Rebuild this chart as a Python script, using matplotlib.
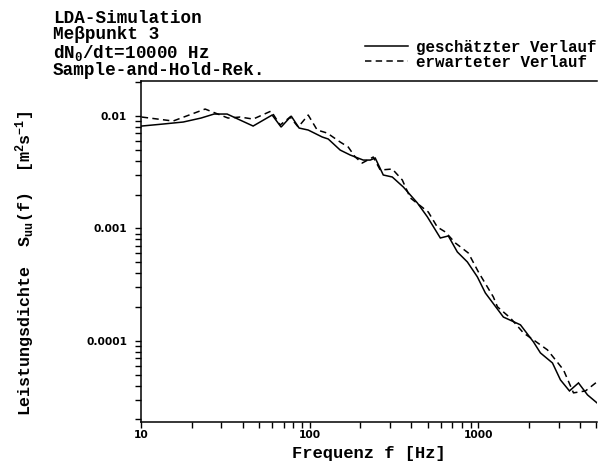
import matplotlib
matplotlib.use("Agg")
import matplotlib.pyplot as plt
from matplotlib.ticker import LogLocator, FixedLocator, FixedFormatter, NullFormatter

# Frequencies [Hz] and spectral density values [m^2 s^-1]
f_est = [10.1, 13.5, 17.8, 22.7, 27.1, 32.4, 38.7, 46.2, 59.9, 67.7, 77.7, 86.6,
         98.0, 118.7, 128.8, 151.7, 174.0, 207.7, 228.6, 244.7, 273.1, 308.8,
         358.8, 434.5, 498.2, 595.0, 663.7, 750.6, 860.4, 986.5, 1100, 1407,
         1776, 2121, 2333, 2749, 3066, 3467, 3922, 4436, 5050]
s_est = [0.00815, 0.00849, 0.00885, 0.00960, 0.01042, 0.01042, 0.00921, 0.00815,
         0.01021, 0.00798, 0.0100, 0.00782, 0.00751, 0.00651, 0.00625, 0.00498,
         0.00450, 0.00406, 0.00406, 0.00423, 0.00299, 0.00287, 0.00234, 0.00169,
         0.00127, 0.000823, 0.000858, 0.000618, 0.000504, 0.000371, 0.000267,
         0.000163, 0.000139, 0.0000980, 0.0000782, 0.0000637, 0.0000450,
         0.0000359, 0.0000423, 0.0000331, 0.0000281]

f_exp = [10.1, 15.5, 24.0, 32.8, 38.7, 46.2, 59.1, 66.8, 76.6, 85.5, 98.0, 110.8,
         127.0, 151.7, 169.3, 186.2, 204.9, 238.2, 262.1, 308.8, 354.0, 394.9,
         505.0, 571.0, 637.2, 730.3, 872.3, 1000, 1227, 1297, 1548, 1850, 2121,
         2568, 3195, 3663, 4315, 5050]
s_exp = [0.00980, 0.00903, 0.01154, 0.00960, 0.00980, 0.00940, 0.01108, 0.00832,
         0.00980, 0.00798, 0.01021, 0.00751, 0.00706, 0.00587, 0.00530, 0.00432,
         0.00382, 0.00432, 0.00331, 0.00338, 0.00270, 0.00187, 0.00140, 0.00103,
         0.000931, 0.000743, 0.000605, 0.000411, 0.000246, 0.000201, 0.000160,
         0.0001178, 0.0001021, 0.0000832, 0.0000553, 0.0000345, 0.0000359,
         0.0000432]

x_ticks = [10, 100, 1000]
x_tick_labels = ["10", "100", "1000"]
y_ticks = [0.0001, 0.001, 0.01]
y_tick_labels = ["0.0001", "0.001", "0.01"]

header_lines = ["LDA-Simulation",
                "Me\u03b2punkt 3",
                r"$\mathregular{dN_0/dt}$=10000 Hz",
                "Sample-and-Hold-Rek."]
legend_labels = ["gesch\u00e4tzter Verlauf", "erwarteter Verlauf"]

mono = "Liberation Mono"

fig = plt.figure(figsize=(6.10, 4.66), dpi=100)
ax = fig.add_axes([141 / 610, 1 - 422 / 466, (597 - 141) / 610, (422 - 81) / 466])

l1, = ax.plot(f_est, s_est, color="black", lw=1.1, solid_joinstyle="miter")
l2, = ax.plot(f_exp, s_exp, color="black", lw=1.1, dashes=(4.2, 2.8))

ax.set_xscale("log")
ax.set_yscale("log")
ax.set_xlim(10, 5050)
ax.set_ylim(1.9e-5, 0.0205)

ax.xaxis.set_major_locator(FixedLocator(x_ticks))
ax.xaxis.set_major_formatter(FixedFormatter(x_tick_labels))
ax.xaxis.set_minor_locator(LogLocator(base=10, subs=range(2, 10)))
ax.xaxis.set_minor_formatter(NullFormatter())
ax.yaxis.set_major_locator(FixedLocator(y_ticks))
ax.yaxis.set_major_formatter(FixedFormatter(y_tick_labels))
ax.yaxis.set_minor_locator(LogLocator(base=10, subs=range(2, 10)))
ax.yaxis.set_minor_formatter(NullFormatter())

ax.spines["right"].set_visible(False)
for s in ("left", "bottom", "top"):
    ax.spines[s].set_linewidth(1.1)

ax.tick_params(axis="both", which="both", direction="out", width=1.0,
               top=False, right=False)
ax.tick_params(axis="x", which="both", length=4, pad=2)
ax.tick_params(axis="y", which="both", length=4, pad=6)
for lab in ax.get_xticklabels() + ax.get_yticklabels():
    lab.set_fontfamily("DejaVu Sans")
    lab.set_fontweight("bold")
    lab.set_fontsize(7.7)

ax.set_xlabel("Frequenz f [Hz]", fontfamily=mono, fontweight="bold",
              fontsize=12.3, labelpad=4)
ax.set_ylabel(r"Leistungsdichte  $\mathregular{S_{uu}(f)}$  [$\mathregular{m^2s^{-1}}$]",
              fontfamily=mono, fontweight="bold", fontsize=12)
ax.yaxis.set_label_coords(-0.229, 0.466)

# header block, one multi-line text
fig.text(53 / 610, 1 - 10 / 466, "\n".join(header_lines), fontfamily=mono,
         fontweight="bold", fontsize=12.7, ha="left", va="top",
         linespacing=0.95)

fig.legend([l1, l2], legend_labels, loc="upper left",
           bbox_to_anchor=(365 / 610, 1 - 40 / 466), frameon=False,
           prop={"family": mono, "weight": "bold", "size": 11.4},
           handlelength=2.7, handletextpad=0.55, labelspacing=0.0,
           borderpad=0, borderaxespad=0)

fig.savefig("out.png", dpi=100)
